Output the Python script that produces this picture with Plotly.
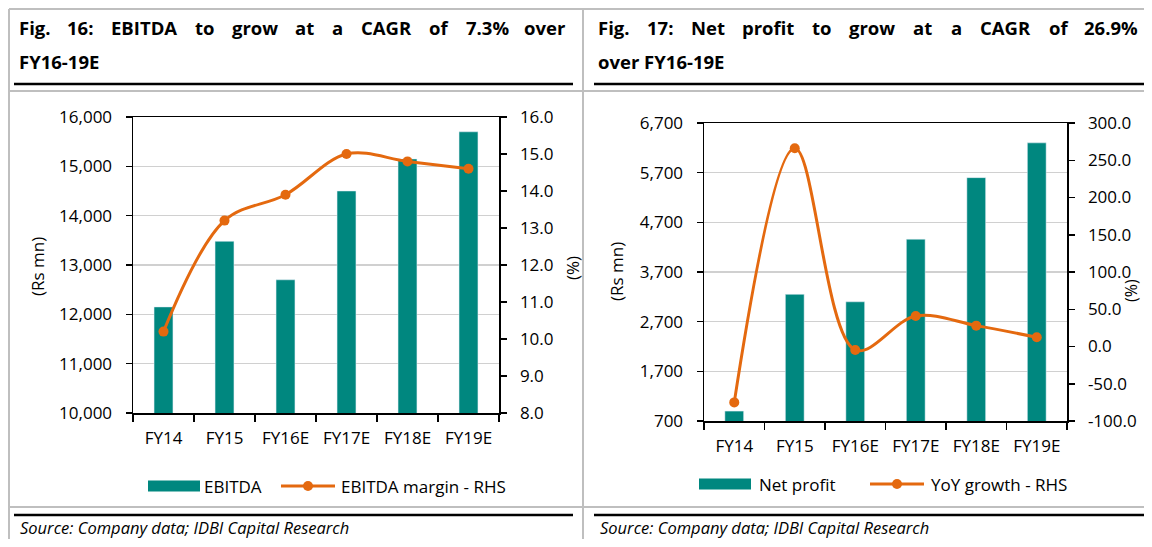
import plotly.graph_objects as go

# ---------------- data ----------------
categories = ["FY14", "FY15", "FY16E", "FY17E", "FY18E", "FY19E"]
ebitda = [12150, 13480, 12700, 14500, 15150, 15700]
ebitda_margin = [10.2, 13.2, 13.9, 15.0, 14.8, 14.6]
net_profit = [900, 3250, 3100, 4360, 5600, 6300]
yoy_growth = [-75.0, 266.0, -4.6, 41.0, 28.0, 12.5]

left_y_ticks = [10000, 11000, 12000, 13000, 14000, 15000, 16000]
left_y_text = ["10,000", "11,000", "12,000", "13,000", "14,000", "15,000", "16,000"]
left_y2_ticks = [8, 9, 10, 11, 12, 13, 14, 15, 16]
left_y2_text = ["8.0", "9.0", "10.0", "11.0", "12.0", "13.0", "14.0", "15.0", "16.0"]
right_y_ticks = [700, 1700, 2700, 3700, 4700, 5700, 6700]
right_y_text = ["700", "1,700", "2,700", "3,700", "4,700", "5,700", "6,700"]
right_y2_ticks = [-100, -50, 0, 50, 100, 150, 200, 250, 300]
right_y2_text = ["-100.0", "-50.0", "0.0", "50.0", "100.0", "150.0", "200.0", "250.0", "300.0"]

title_left_1 = "Fig. 16: EBITDA to grow at a CAGR of 7.3% over"
title_left_2 = "FY16-19E"
title_right_1 = "Fig. 17: Net profit to grow at a CAGR of 26.9%"
title_right_2 = "over FY16-19E"
source_text = "Source: Company data; IDBI Capital Research"

# ---------------- style ----------------
# The page body has an 8px default margin, so the figure is 16px smaller
# than the window and all page coordinates are shifted by 8px.
OFF = 8
FW, FH = 1152 - 2 * OFF, 547 - 2 * OFF
TEAL = "#00877F"
ORANGE = "#E4690F"
GRID = "#D0D0D0"
BORDER = "#BFBFBF"
FONT = "Open Sans"


def px(x):
    return (x - OFF) / FW


def py(y):
    return 1 - (y - OFF) / FH


fig = go.Figure()

fig.add_trace(go.Bar(x=categories, y=ebitda, marker_color=TEAL, xaxis="x", yaxis="y",
                     showlegend=False, name="EBITDA"))
fig.add_trace(go.Scatter(x=categories, y=ebitda_margin, mode="lines+markers", xaxis="x", yaxis="y2",
                         line=dict(color=ORANGE, width=3, shape="spline", smoothing=1.0),
                         marker=dict(size=10, color=ORANGE), showlegend=False,
                         name="EBITDA margin - RHS"))
fig.add_trace(go.Bar(x=categories, y=net_profit, marker_color=TEAL, xaxis="x2", yaxis="y3",
                     showlegend=False, name="Net profit"))
fig.add_trace(go.Scatter(x=categories, y=yoy_growth, mode="lines+markers", xaxis="x2", yaxis="y4",
                         line=dict(color=ORANGE, width=3, shape="spline", smoothing=1.0),
                         marker=dict(size=10, color=ORANGE), showlegend=False,
                         name="YoY growth - RHS"))

tickfont = dict(family=FONT, size=17, color="#000000")

xcommon = dict(type="category", categoryorder="array", categoryarray=categories,
               showline=True, linecolor="#000000", linewidth=1.5, mirror=True,
               ticks="outside", tickson="boundaries", ticklen=7, tickcolor="#000000",
               tickwidth=1.5, showgrid=False, tickfont=tickfont, ticklabelstandoff=9,
               tickangle=0, fixedrange=True, automargin=False)
ycommon = dict(showline=True, linecolor="#000000", linewidth=1.5, ticks="outside",
               ticklen=6, tickcolor="#000000", tickwidth=1.5, tickfont=tickfont,
               zeroline=False, ticklabelstandoff=10, fixedrange=True, automargin=False)

fig.update_layout(
    xaxis=dict(domain=[px(133), px(499)], anchor="y", **xcommon),
    yaxis=dict(domain=[py(413), py(117)], anchor="x", range=[10000, 16000],
               tickvals=left_y_ticks, ticktext=left_y_text, showgrid=True,
               gridcolor=GRID, gridwidth=1.5, **ycommon),
    yaxis2=dict(overlaying="y", side="right", anchor="x", range=[8, 16],
                tickvals=left_y2_ticks, ticktext=left_y2_text, showgrid=False, **ycommon),
    xaxis2=dict(domain=[px(704), px(1067)], anchor="y3", **xcommon),
    yaxis3=dict(domain=[py(421), py(123)], anchor="x2", range=[700, 6700],
                tickvals=right_y_ticks, ticktext=right_y_text, showgrid=True,
                gridcolor=GRID, gridwidth=1.5, **ycommon),
    yaxis4=dict(overlaying="y3", side="right", anchor="x2", range=[-100, 300],
                tickvals=right_y2_ticks, ticktext=right_y2_text, showgrid=False, **ycommon),
    bargap=0.69,
    width=FW, height=FH, autosize=False,
    margin=dict(l=0, r=0, t=0, b=0, autoexpand=False),
    paper_bgcolor="#FFFFFF", plot_bgcolor="rgba(0,0,0,0)",
    showlegend=False,
    font=dict(family=FONT, color="#000000"),
)

shapes = []
annotations = []


def hline(x0, x1, y, color, width):
    shapes.append(dict(type="line", xref="paper", yref="paper", x0=px(x0), x1=px(x1),
                       y0=py(y), y1=py(y), line=dict(color=color, width=width)))


def vline(x, y0, y1, color, width):
    shapes.append(dict(type="line", xref="paper", yref="paper", x0=px(x), x1=px(x),
                       y0=py(y0), y1=py(y1), line=dict(color=color, width=width)))


RIGHT = OFF + FW
BOTTOM = OFF + FH
# table borders
hline(9, RIGHT, 9, BORDER, 2)
hline(9, RIGHT, 91, BORDER, 2)
hline(9, RIGHT, 507, BORDER, 2)
vline(9, 9, BOTTOM, BORDER, 2)
vline(583, 9, BOTTOM, BORDER, 2)
# black rules
hline(14, 573, 84, "#000000", 2.5)
hline(594, RIGHT, 84, "#000000", 2.5)
hline(14, 573, 515, "#000000", 2.5)
hline(594, RIGHT, 515, "#000000", 2.5)

# ---- justified titles (word by word) ----
WID = {
    " ": .26, "F": .57, "i": .30, "g": .56, ".": .29, ":": .29, "E": .55, "B": .66,
    "I": .33, "T": .56, "D": .72, "A": .69, "t": .39, "o": .61, "r": .43, "w": .83,
    "a": .59, "C": .63, "G": .73, "R": .65, "f": .38, "%": .89, "v": .56, "e": .58,
    "N": .76, "p": .61, "Y": .58,
}


def est(word, size):
    return sum(WID.get(c, .57) for c in word) * size


TSIZE = 18.5


def justified(text, x0, x1, y):
    words = text.split(" ")
    widths = [est(w, TSIZE) for w in words]
    gap = (x1 - x0 - sum(widths)) / (len(words) - 1)
    x = x0
    for i, (wd, wt) in enumerate(zip(words, widths)):
        if i == 0:
            xa, xp = "left", x
        elif i == len(words) - 1:
            xa, xp = "right", x1
        else:
            xa, xp = "center", x + wt / 2
        annotations.append(dict(text="<b>%s</b>" % wd, xref="paper", yref="paper",
                                x=px(xp), y=py(y), xanchor=xa, yanchor="middle",
                                showarrow=False, font=dict(family=FONT, size=TSIZE, color="#000000")))
        x += wt + gap


def plain(text, x, y, xa="left"):
    annotations.append(dict(text="<b>%s</b>" % text, xref="paper", yref="paper",
                            x=px(x), y=py(y), xanchor=xa, yanchor="middle", showarrow=False,
                            font=dict(family=FONT, size=TSIZE, color="#000000")))


justified(title_left_1, 17, 568, 27)
plain(title_left_2, 17, 61)
justified(title_right_1, 596, 1140, 27)
plain(title_right_2, 596, 61)

# ---- axis titles ----
for txt, x, y, s in [("(Rs mn)", 37, 267, 17), ("(%)", 572, 268, 17),
                     ("(Rs mn)", 616, 272, 17), ("(%)", 1131, 291, 16)]:
    annotations.append(dict(text=txt, xref="paper", yref="paper", x=px(x), y=py(y),
                            xanchor="center", yanchor="middle", textangle=-90, showarrow=False,
                            font=dict(family=FONT, size=s, color="#000000")))


# ---- manual legends ----
def legend(bar_x0, bar_x1, text1_x, line_x0, line_x1, text2_x, y, t1, t2):
    shapes.append(dict(type="rect", xref="paper", yref="paper", x0=px(bar_x0), x1=px(bar_x1),
                       y0=py(y + 5.5), y1=py(y - 5.5), fillcolor=TEAL, line=dict(width=0)))
    hline(line_x0, line_x1, y, ORANGE, 3)
    mx = (line_x0 + line_x1) / 2
    shapes.append(dict(type="circle", xref="paper", yref="paper", x0=px(mx - 5), x1=px(mx + 5),
                       y0=py(y + 5), y1=py(y - 5), fillcolor=ORANGE, line=dict(width=0)))
    for t, x in [(t1, text1_x), (t2, text2_x)]:
        annotations.append(dict(text=t, xref="paper", yref="paper", x=px(x), y=py(y),
                                xanchor="left", yanchor="middle", showarrow=False,
                                font=dict(family=FONT, size=17, color="#000000")))


legend(148, 200, 202, 281, 335, 339, 486, "EBITDA", "EBITDA margin - RHS")
legend(699, 751, 757, 870, 924, 929, 484, "Net profit", "YoY growth - RHS")

# ---- source ----
for x in (18, 598):
    annotations.append(dict(text="<i>%s</i>" % source_text, xref="paper", yref="paper",
                            x=px(x), y=py(527), xanchor="left", yanchor="middle", showarrow=False,
                            font=dict(family=FONT, size=16.5, color="#000000")))

fig.update_layout(shapes=shapes, annotations=annotations)

fig.write_html("out.html", config={"displayModeBar": False, "staticPlot": True})
